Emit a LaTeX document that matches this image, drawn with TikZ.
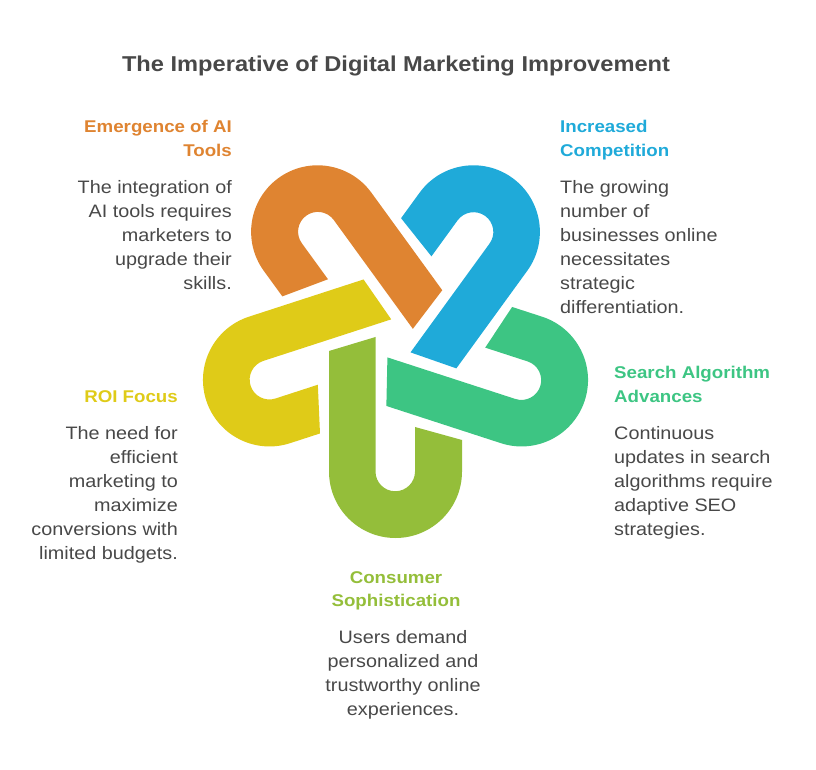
\documentclass[tikz,border=0pt]{standalone}
\usepackage{fontspec}
\setmainfont{Liberation Sans}[FakeStretch=1.1]
\definecolor{corange}{HTML}{DF8431}
\definecolor{cblue}{HTML}{1FAAD9}
\definecolor{cteal}{HTML}{3DC583}
\definecolor{cgreen}{HTML}{94BE3A}
\definecolor{cyellow}{HTML}{DFCB18}
\definecolor{ctext}{HTML}{484848}
\tikzset{
 body/.style={inner sep=0pt,text=ctext,font=\fontsize{18}{24}\selectfont},
 head/.style={inner sep=0pt,font=\bfseries\fontsize{17}{23.5}\selectfont},
}
\newcommand{\hook}[2]{%
 \fill[#2,rotate=#1] (-66.5,-12) -- (-66.5,-132.5) arc (180:360:66.5) -- (66.5,-101) -- (19.5,-88)
   -- (19.5,-132.5) arc (0:-180:19.75) -- (-20,2) -- cycle;}
\begin{document}
\begin{tikzpicture}[x=1pt,y=1pt]
\useasboundingbox (0,0) rectangle (816,769);
\node[inner sep=0pt,text=ctext,font=\bfseries\fontsize{21.5}{24}\selectfont] (title) at (396,703) {The Imperative of Digital Marketing Improvement};
\begin{scope}[shift={(395.5,430)}]
\hook{0}{cgreen}
\hook{72}{cteal}
\hook{144}{cblue}
\hook{216}{corange}
\hook{288}{cyellow}
\end{scope}
% orange
\node[head,text=corange,align=right,anchor=north east] (h1) at (232,649) {Emergence of AI\\Tools};
\node[body,align=right,anchor=north east] (b1) at (232,589) {The integration of\\AI tools requires\\marketers to\\upgrade their\\skills.};
% blue
\node[head,text=cblue,align=left,anchor=north west] (h2) at (560,649) {Increased\\Competition};
\node[body,align=left,anchor=north west] (b2) at (560,589) {The growing\\number of\\businesses online\\necessitates\\strategic\\differentiation.};
% teal
\node[head,text=cteal,align=left,anchor=north west] (h3) at (614,403) {Search Algorithm\\Advances};
\node[body,align=left,anchor=north west] (b3) at (614,343) {Continuous\\updates in search\\algorithms require\\adaptive SEO\\strategies.};
% yellow
\node[head,text=cyellow,align=right,anchor=north east] (h4) at (178,379) {ROI Focus};
\node[body,align=right,anchor=north east] (b4) at (178,343) {The need for\\efficient\\marketing to\\maximize\\conversions with\\limited budgets.};
% green
\node[head,text=cgreen,align=center,anchor=north] (h5) at (396,198) {Consumer\\Sophistication};
\node[body,align=center,anchor=north] (b5) at (403,139) {Users demand\\personalized and\\trustworthy online\\experiences.};
\end{tikzpicture}
\end{document}
